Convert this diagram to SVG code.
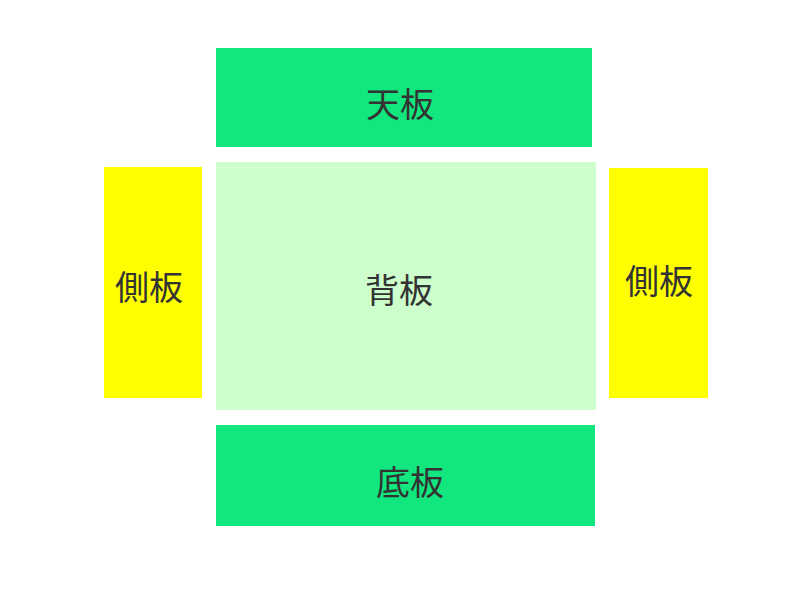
<svg xmlns="http://www.w3.org/2000/svg" width="800" height="600" viewBox="0 0 800 600">
<style>
.green{fill:#12E67E}
.yellow{fill:#FFFF00}
.light{fill:#CCFFCC}
.lbl{font-family:"Noto Sans CJK JP","Noto Sans CJK SC",sans-serif;font-size:34px;fill:#333333;text-anchor:middle;dominant-baseline:central}
</style>
<rect width="800" height="600" fill="#FFFFFF"/>
<g id="top">
<rect class="green" x="216" y="48" width="376" height="99"/>
<text class="lbl" x="400" y="102">天板</text>
</g>
<g id="back">
<rect class="light" x="216" y="162" width="380" height="248"/>
<text class="lbl" x="399" y="288">背板</text>
</g>
<g id="left-side">
<rect class="yellow" x="104" y="167" width="98" height="231"/>
<text class="lbl" x="149" y="285">側板</text>
</g>
<g id="right-side">
<rect class="yellow" x="609" y="168" width="99" height="230"/>
<text class="lbl" x="659" y="279">側板</text>
</g>
<g id="bottom">
<rect class="green" x="216" y="425" width="379" height="101"/>
<text class="lbl" x="410" y="480">底板</text>
</g>
<g id="connectors"/>
</svg>
